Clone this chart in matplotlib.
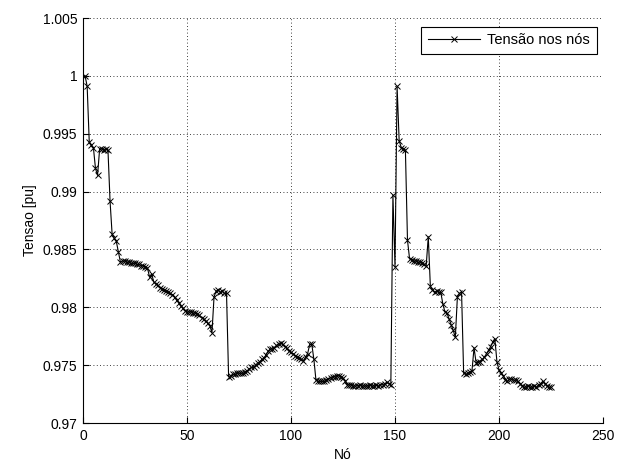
import matplotlib
matplotlib.use("Agg")
import matplotlib.pyplot as plt
from matplotlib.ticker import FuncFormatter

# Node voltage profile (pu), one value per node starting at node 1
tensao = [
    1.0000, 0.9991, 0.9943, 0.9940, 0.9938, 0.9920, 0.9914, 0.9937, 0.9937, 0.9936,
    0.9937, 0.9936, 0.9892, 0.9863, 0.9860, 0.9857, 0.9848, 0.9839, 0.9840, 0.9840,
    0.9839, 0.9839, 0.9838, 0.9838, 0.9838, 0.9837, 0.9837, 0.9836, 0.9836, 0.9835,
    0.9834, 0.9826, 0.9829, 0.9822, 0.9820, 0.9819, 0.9817, 0.9816, 0.9815, 0.9814,
    0.9813, 0.9812, 0.9811, 0.9809, 0.9806, 0.9804, 0.9801, 0.9799, 0.9797, 0.9796,
    0.9796, 0.9796, 0.9795, 0.9795, 0.9794, 0.9793, 0.9791, 0.9790, 0.9788, 0.9786,
    0.9784, 0.9778, 0.9809, 0.9814, 0.9815, 0.9813, 0.9814, 0.9812, 0.9812, 0.9740,
    0.9741, 0.9742, 0.9742, 0.9743, 0.9743, 0.9743, 0.9743, 0.9744, 0.9745, 0.9747,
    0.9748, 0.9748, 0.9750, 0.9752, 0.9753, 0.9755, 0.9756, 0.9759, 0.9762, 0.9764,
    0.9764, 0.9765, 0.9767, 0.9768, 0.9769, 0.9768, 0.9766, 0.9765, 0.9762, 0.9761,
    0.9760, 0.9758, 0.9757, 0.9756, 0.9755, 0.9754, 0.9757, 0.9760, 0.9768, 0.9768,
    0.9755, 0.9737, 0.9736, 0.9736, 0.9736, 0.9736, 0.9737, 0.9738, 0.9739, 0.9740,
    0.9740, 0.9741, 0.9741, 0.9740, 0.9739, 0.9736, 0.9733, 0.9733, 0.9733, 0.9732,
    0.9732, 0.9732, 0.9733, 0.9732, 0.9732, 0.9732, 0.9732, 0.9733, 0.9732, 0.9732,
    0.9733, 0.9732, 0.9733, 0.9733, 0.9734, 0.9735, 0.9734, 0.9733, 0.9897, 0.9835,
    0.9991, 0.9944, 0.9938, 0.9937, 0.9936, 0.9858, 0.9842, 0.9841, 0.9840, 0.9840,
    0.9839, 0.9839, 0.9838, 0.9837, 0.9836, 0.9861, 0.9818, 0.9815, 0.9813, 0.9814,
    0.9813, 0.9813, 0.9803, 0.9796, 0.9795, 0.9790, 0.9785, 0.9780, 0.9774, 0.9809,
    0.9812, 0.9813, 0.9743, 0.9742, 0.9743, 0.9744, 0.9745, 0.9765, 0.9752, 0.9753,
    0.9753, 0.9755, 0.9757, 0.9760, 0.9763, 0.9766, 0.9770, 0.9773, 0.9753, 0.9746,
    0.9743, 0.9741, 0.9737, 0.9736, 0.9738, 0.9738, 0.9737, 0.9737, 0.9736, 0.9734,
    0.9732, 0.9731, 0.9731, 0.9732, 0.9731, 0.9731, 0.9732, 0.9731, 0.9733, 0.9734,
    0.9736, 0.9734, 0.9732, 0.9731, 0.9731,
]
nos = list(range(1, len(tensao) + 1))

x_ticks = [0, 50, 100, 150, 200, 250]
y_ticks = [0.97, 0.975, 0.98, 0.985, 0.99, 0.995, 1.0, 1.005]

plt.rcParams['font.family'] = ['Liberation Sans', 'DejaVu Sans']

fig = plt.figure(figsize=(6.27, 4.65), dpi=100)
ax = fig.add_axes([83 / 627, 42 / 465, 520 / 627, 405 / 465])

ax.plot(nos, tensao, color='black', linewidth=0.8, marker='x',
        markersize=5, markeredgewidth=0.7, label='Tensão nos nós')

ax.set_xlim(0, 250)
ax.set_ylim(0.97, 1.005)
ax.set_xticks(x_ticks)
ax.set_yticks(y_ticks)
ax.yaxis.set_major_formatter(FuncFormatter(lambda v, p: '%g' % round(v, 4)))

ax.grid(True, color='black', linestyle=(0, (1, 3)), linewidth=0.6)
for side in ('top', 'right'):
    ax.spines[side].set_visible(False)
for side in ('left', 'bottom'):
    ax.spines[side].set_linewidth(0.8)
ax.tick_params(direction='in', length=4, width=0.8, labelsize=10, pad=4)

ax.set_xlabel('Nó', fontsize=10)
ax.set_ylabel('Tensao [pu]', fontsize=10)

leg = ax.legend(loc='upper right', fontsize=10.5, fancybox=False, framealpha=1,
                edgecolor='black', borderpad=0.45, handlelength=3.6,
                handletextpad=0.5, borderaxespad=0,
                bbox_to_anchor=(0.988, 0.978))
leg.get_frame().set_linewidth(0.8)

fig.savefig('out.png', dpi=100)
